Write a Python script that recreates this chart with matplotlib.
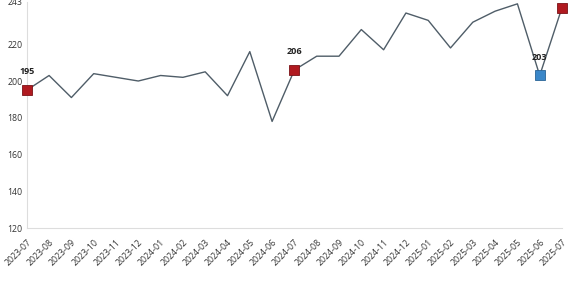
import matplotlib
matplotlib.use("Agg")
import matplotlib.pyplot as plt

months = ["2023-07", "2023-08", "2023-09", "2023-10", "2023-11", "2023-12",
          "2024-01", "2024-02", "2024-03", "2024-04", "2024-05", "2024-06",
          "2024-07", "2024-08", "2024-09", "2024-10", "2024-11", "2024-12",
          "2025-01", "2025-02", "2025-03", "2025-04", "2025-05", "2025-06",
          "2025-07"]
values = [195, 203, 191, 204, 202, 200, 203, 202, 205, 192, 216, 178,
          206, 213.5, 213.5, 228, 217, 237, 233, 218, 232, 238, 242, 203, 240]

red_idx = [0, 12, 24]
blue_idx = [23]
labelled_idx = [0, 12, 23]
y_ticks = [120, 140, 160, 180, 200, 220, 243]

plt.rcParams['font.family'] = ['Open Sans', 'DejaVu Sans']

fig = plt.figure(figsize=(5.7, 2.85), dpi=100)
ax = fig.add_axes([0.047, 0.2, 0.939, 0.793])

x = list(range(len(months)))
ax.plot(x, values, color="#4f5d68", lw=1.0, zorder=2)

ax.plot([x[i] for i in red_idx], [values[i] for i in red_idx], ls="none",
        marker="s", ms=7.5, mfc="#b01a20", mec="#7a1116", mew=0.6,
        zorder=3, clip_on=False)
ax.plot([x[i] for i in blue_idx], [values[i] for i in blue_idx], ls="none",
        marker="s", ms=7.5, mfc="#3a87c9", mec="#2a6496", mew=0.6,
        zorder=3, clip_on=False)

for i in labelled_idx:
    ax.annotate(f"{values[i]:.0f}", (x[i], values[i]), xytext=(0, 10),
                textcoords="offset points", ha="center", va="bottom",
                fontsize=6.5, fontweight="bold", color="#222222", zorder=4)

ax.set_xlim(0, len(months) - 1)
ax.set_ylim(120, 243)
ax.set_yticks(y_ticks)
ax.set_xticks(x)
ax.set_xticklabels(months, rotation=45, ha="right", rotation_mode="anchor")
ax.tick_params(axis="x", pad=7)
ax.tick_params(length=0, labelsize=6.3, colors="#333333")
ax.tick_params(axis="y", pad=3)

for s in ["top", "right"]:
    ax.spines[s].set_visible(False)
for s in ["left", "bottom"]:
    ax.spines[s].set_color("#dddddd")
    ax.spines[s].set_linewidth(0.8)

fig.savefig("out.png", dpi=100)
